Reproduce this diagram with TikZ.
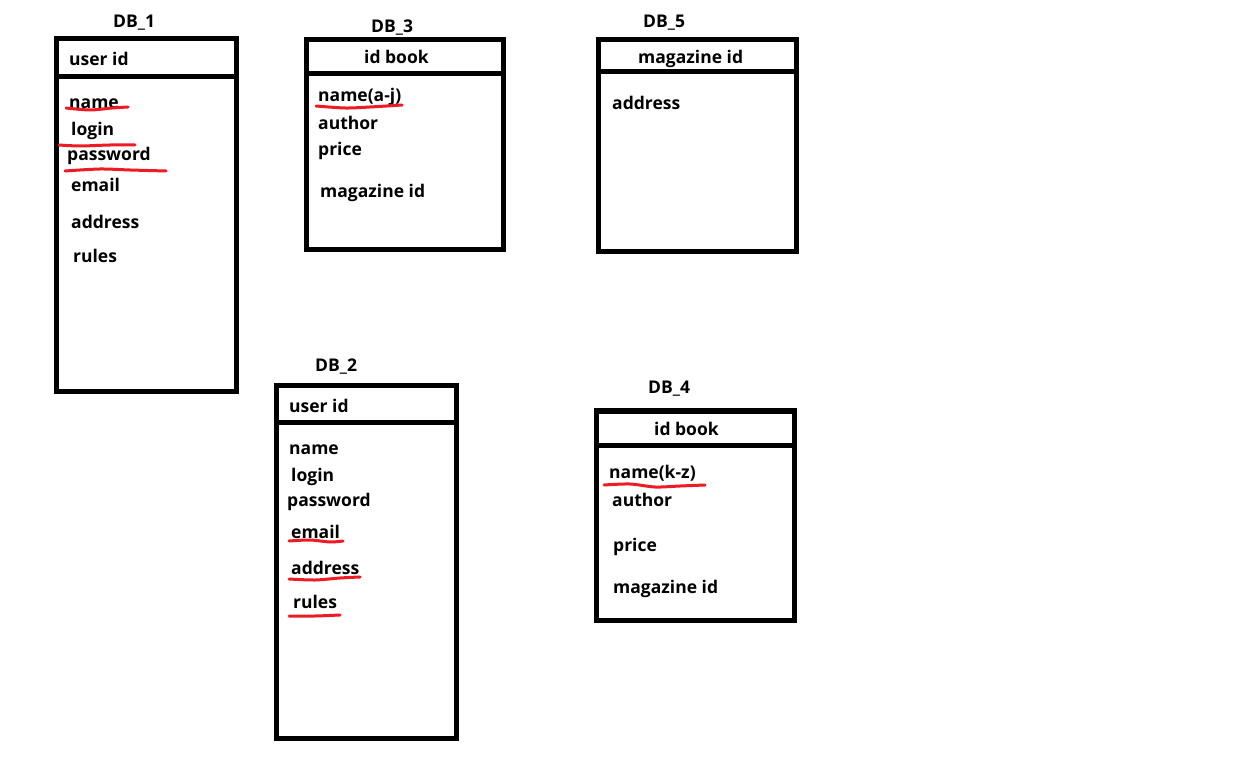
\documentclass[tikz,border=0pt]{standalone}
\usepackage{fontspec}
\setmainfont{Open Sans}
\usepackage{tikz}
\usetikzlibrary{positioning}

\definecolor{paintred}{HTML}{ED1C24}

\tikzset{
    field/.style={anchor=base west,inner sep=0pt,yshift=-1.5pt,font=\fontsize{17.5}{20}\selectfont\bfseries},
    tablebox/.style={draw=black,line width=5pt},
    redline/.style={draw=paintred,line width=3pt,line cap=round}
}

\begin{document}
\begin{tikzpicture}[x=1pt,y=-1pt]
    \useasboundingbox[fill=white] (0,0) rectangle (1243,767);

    % DB_1
    \node [field] (t1) at (113,26) {DB\_1};
    \draw [tablebox] (56.5,39) rectangle (236.5,392);
    \draw [tablebox] (56.5,76.5) -- (236.5,76.5);
    \node [field] (h1) at (69,64) {user id};
    \node [field] (a1) at (69,107) {name};
    \node [field] (b1) at (71,134) {login};
    \node [field] (c1) at (67,159) {password};
    \node [field] (d1) at (71,190) {email};
    \node [field] (e1) at (71,227) {address};
    \node [field] (f1) at (73,261) {rules};
    \draw [redline] plot[smooth] coordinates {(66,108) (90,110) (112,108) (128,107)};
    \draw [redline] plot[smooth] coordinates {(59,145) (80,146) (110,145) (135,145)};
    \draw [redline] plot[smooth] coordinates {(65,171) (100,169) (130,170) (166,171)};

    % DB_3
    \node [field] (t3) at (371,31) {DB\_3};
    \draw [tablebox] (306.5,40) rectangle (503,249.5);
    \draw [tablebox] (306.5,73.5) -- (503,73.5);
    \node [field] (h3) at (364,62) {id book};
    \node [field] (a3) at (318,100) {name(a-j)};
    \node [field] (b3) at (318,128) {author};
    \node [field] (c3) at (318,154) {price};
    \node [field] (d3) at (320,196) {magazine id};
    \draw [redline] plot[smooth] coordinates {(316,106) (345,108) (370,107) (402,105)};

    % DB_5
    \node [field] (t5) at (643,26) {DB\_5};
    \draw [tablebox] (598,40) rectangle (796,252);
    \draw [tablebox] (598,72) -- (796,72);
    \node [field] (h5) at (638,62) {magazine id};
    \node [field] (a5) at (612,108) {address};

    % DB_2
    \node [field] (t2) at (315,370) {DB\_2};
    \draw [tablebox] (276.5,386) rectangle (456.5,738.5);
    \draw [tablebox] (276.5,422) -- (456.5,422);
    \node [field] (h2) at (289,411) {user id};
    \node [field] (a2) at (289,453) {name};
    \node [field] (b2) at (291,480) {login};
    \node [field] (c2) at (287,505) {password};
    \node [field] (d2) at (291,537) {email};
    \node [field] (e2) at (291,573) {address};
    \node [field] (f2) at (293,607) {rules};
    \draw [redline] plot[smooth] coordinates {(289,541) (310,540) (330,542) (343,541)};
    \draw [redline] plot[smooth] coordinates {(289,579) (315,580) (340,578) (360,577)};
    \draw [redline] plot[smooth] coordinates {(289,616) (315,616) (340,615)};

    % DB_4
    \node [field] (t4) at (648,392) {DB\_4};
    \draw [tablebox] (596.5,411) rectangle (794.5,620);
    \draw [tablebox] (596.5,445.5) -- (794.5,445.5);
    \node [field] (h4) at (654,434) {id book};
    \node [field] (a4) at (609,477) {name(k-z)};
    \node [field] (b4) at (612,505) {author};
    \node [field] (c4) at (613,550) {price};
    \node [field] (d4) at (613,592) {magazine id};
    \draw [redline] plot[smooth] coordinates {(604,485) (630,484) (655,487) (680,486) (705,485)};
\end{tikzpicture}
\end{document}
